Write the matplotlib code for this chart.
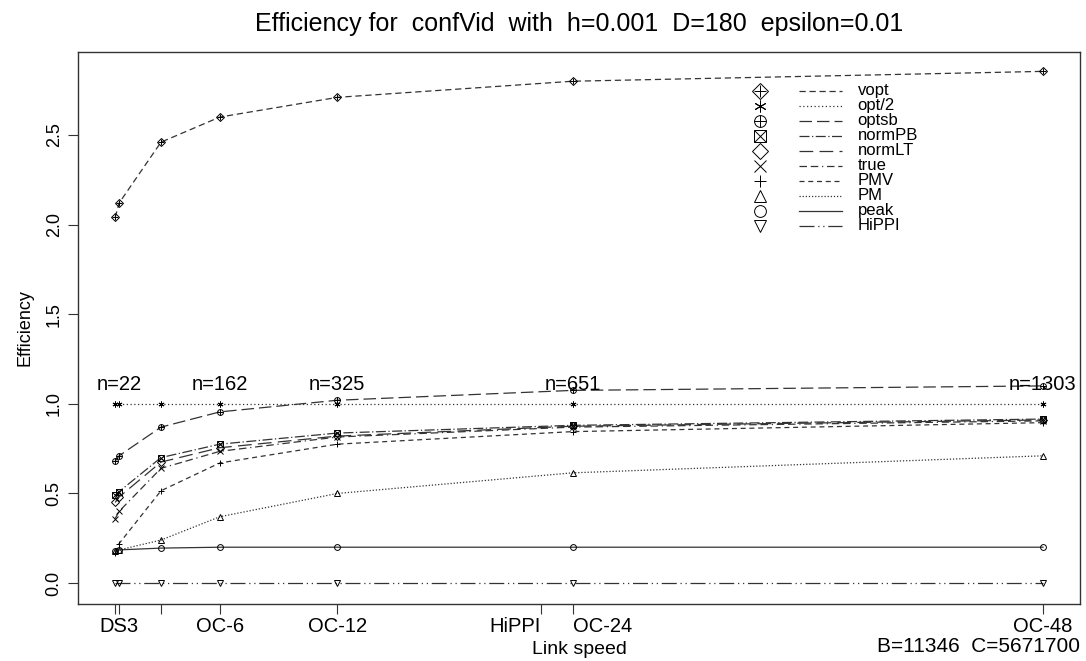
import matplotlib
matplotlib.use("Agg")
import matplotlib.pyplot as plt

plt.rcParams['font.family'] = ['Liberation Sans', 'DejaVu Sans']

# ---------------- data ----------------
link_speed = [34.4, 44.7, 155.5, 311, 622, 1244, 2488]
series_names = ["vopt", "opt/2", "optsb", "normPB", "normLT", "true", "PMV", "PM", "peak", "HiPPI"]
vopt   = [2.04, 2.12, 2.46, 2.60, 2.71, 2.80, 2.855]
opt2   = [1.0, 1.0, 1.0, 1.0, 1.0, 1.0, 1.0]
optsb  = [0.68, 0.71, 0.87, 0.955, 1.02, 1.075, 1.10]
normPB = [0.49, 0.51, 0.70, 0.775, 0.837, 0.88, 0.915]
normLT = [0.45, 0.48, 0.675, 0.755, 0.82, 0.875, 0.91]
true_  = [0.36, 0.40, 0.64, 0.735, 0.815, 0.87, 0.905]
PMV    = [0.17, 0.22, 0.515, 0.67, 0.775, 0.845, 0.895]
PM     = [0.18, 0.185, 0.24, 0.37, 0.50, 0.615, 0.71]
peak   = [0.18, 0.185, 0.195, 0.20, 0.20, 0.20, 0.20]
HiPPI  = [0.0, 0.0, 0.0, 0.0, 0.0, 0.0, 0.0]
all_series = [vopt, opt2, optsb, normPB, normLT, true_, PMV, PM, peak, HiPPI]

tick_pos = [34.4, 44.7, 155.5, 311, 622, 1160, 1244, 2488]
tick_labels = ["", "DS3", "", "OC-6", "OC-12", "HiPPI", "OC-24", "OC-48"]
n_labels = ["n=22", "n=162", "n=325", "n=651", "n=1303"]
n_label_x = [44.7, 311, 622, 1244, 2488]
n_label_y = 1.11

# ---------------- styles ----------------
markers = [["D", "+"], [(6, 2, 0)], ["o", "+"], ["s", "x"], ["D"], ["x"], ["+"], ["^"], ["o"], ["v"]]
dashes = [(0, (5, 3)), (0, (1, 2)), (0, (10, 4)), (0, (8, 2, 1, 2)), (0, (11, 5)),
          (0, (6, 3, 6, 3, 1, 3)), (0, (4, 3)), (0, (1, 1.5)), "-", (0, (12, 3, 1, 3, 1, 3))]
lc = "#333333"

fig = plt.figure(figsize=(10.86, 6.61), dpi=100)
ax = fig.add_axes([0.0718, 0.0862, 0.9227, 0.8351])

def draw_marker(axis, x, y, mlist, size, **kw):
    for m in mlist:
        axis.plot(x, y, linestyle="none", marker=m, markersize=size, markerfacecolor="none",
                  markeredgecolor="black", markeredgewidth=0.7, **kw)

for vals, mk, ds in zip(all_series, markers, dashes):
    ax.plot(link_speed, vals, linestyle=ds, color=lc, linewidth=0.9)
    draw_marker(ax, link_speed, vals, mk, 4.2)

for lab, xx in zip(n_labels, n_label_x):
    ax.text(xx, n_label_y, lab, ha="center", va="center", fontsize=14.5)

ax.set_xlim(-64, 2586)
ax.set_ylim(-0.117, 2.963)
ax.set_xticks(tick_pos)
ax.set_xticklabels(tick_labels, fontsize=14.5)
for t in ax.get_xticklabels():
    if t.get_text() == "HiPPI":
        t.set_ha("right")
    elif t.get_text() == "OC-24":
        t.set_ha("left")
ax.set_yticks([0.0, 0.5, 1.0, 1.5, 2.0, 2.5])
ax.set_yticklabels(["0.0", "0.5", "1.0", "1.5", "2.0", "2.5"], fontsize=13, rotation=90, va="center")
ax.tick_params(axis="both", direction="out", length=7, width=0.8, color="#333333")
ax.tick_params(axis="x", pad=2)
ax.tick_params(axis="y", pad=4)
for s in ax.spines.values():
    s.set_color("#333333")
    s.set_linewidth(1.0)

ax.set_xlabel("Link speed", fontsize=14, labelpad=4)
ax.set_ylabel("Efficiency", fontsize=13, labelpad=9)
fig.suptitle("Efficiency for  confVid  with  h=0.001  D=180  epsilon=0.01", fontsize=18,
             x=0.533, y=0.982)
fig.text(0.9945, 0.022, "B=11346  C=5671700", ha="right", va="center", fontsize=15)

# ---------------- legend (drawn manually) ----------------
leg_top = 0.93
leg_step = 0.0272
for i, (name, mk, ds) in enumerate(zip(series_names, markers, dashes)):
    yy = leg_top - i * leg_step
    draw_marker(ax, [0.681], [yy], mk, 8.5, transform=ax.transAxes, clip_on=False)
    ax.plot([0.720, 0.762], [yy, yy], linestyle=ds, color=lc, linewidth=0.9, transform=ax.transAxes)
    ax.text(0.778, yy, name, transform=ax.transAxes, ha="left", va="center", fontsize=12)

fig.savefig("out.png", dpi=100)
